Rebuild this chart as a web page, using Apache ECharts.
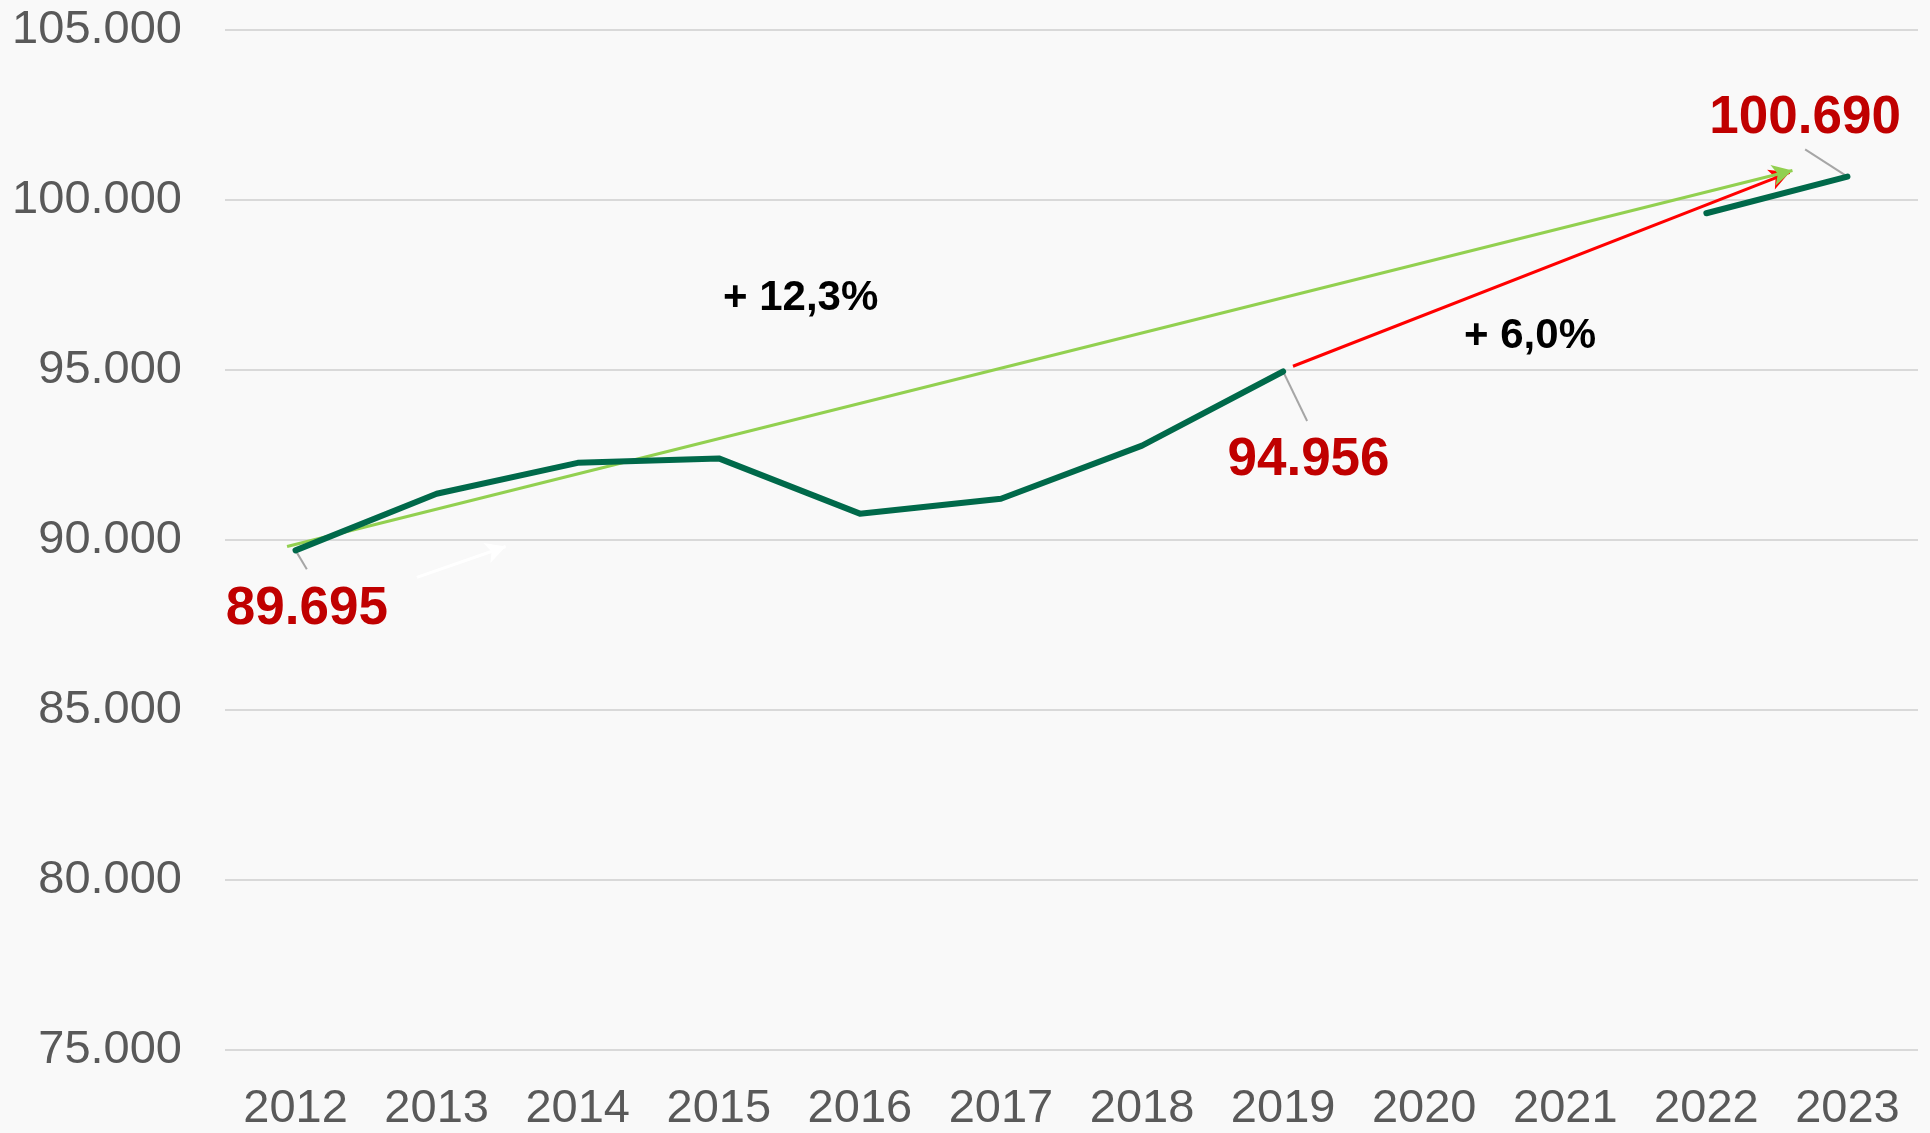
<!DOCTYPE html>
<html>
<head>
<meta charset="utf-8">
<style>
  html, body { margin: 0; padding: 0; background: #f9f9f9; }
  #chart { width: 1930px; height: 1133px; }
</style>
<script src="https://cdn.jsdelivr.net/npm/echarts@6/dist/echarts.min.js"></script>
</head>
<body>
<div id="chart"></div>
<script>
const years = ["2012", "2013", "2014", "2015", "2016", "2017", "2018", "2019", "2020", "2021", "2022", "2023"];
const values = [89695, 91360, 92270, 92400, 90775, 91215, 92775, 94956, null, null, 99610, 100690];
const yTicks = { min: 75000, max: 105000, interval: 5000 };

// annotation points in data units: [category position, value]
const trendArrow = [[-0.06, 89810], [10.61, 100870]];
const recentArrow = [[7.07, 95110], [10.59, 100815]];
const hiddenArrow = [[0.86, 88900], [1.49, 89810]];
const leaders = [
  [[0, 89695], [0.08, 89140]],
  [[7, 94956], [7.17, 93500]],
  [[11, 100690], [10.7, 101490]]
];
const valueLabels = [
  [0.08, 87960, "89.695"],
  [7.18, 92330, "94.956"],
  [10.7, 102400, "100.690"]
];
const growthLabels = [
  [3.58, 97100, "+ 12,3%"],
  [8.75, 96000, "+ 6,0%"]
];

const chart = echarts.init(document.getElementById("chart"));
const font = "'Liberation Sans', Arial, sans-serif";

function segment(points, color, width, arrow) {
  return [
    { coord: points[0], symbol: "none", lineStyle: { color, width, type: "solid" } },
    { coord: points[1], symbol: arrow ? "arrow" : "none", symbolSize: arrow ? [16, 20] : 0 }
  ];
}

const markLines = [
  segment(hiddenArrow, "#ffffff", 3, true),
  segment(recentArrow, "#ff0000", 3, true),
  segment(trendArrow, "#92d050", 3, true),
  ...leaders.map((p) => segment(p, "#a6a6a6", 2, false))
];

const textData = [
  ...valueLabels.map((d) => ({
    value: d,
    label: { color: "#c00000", fontSize: 53, fontWeight: "bold" }
  })),
  ...growthLabels.map((d) => ({
    value: d,
    label: { color: "#000000", fontSize: 42, fontWeight: "bold" }
  }))
];

chart.setOption({
  backgroundColor: "#f9f9f9",
  animation: false,
  grid: { left: 225, right: 12, top: 30, bottom: 77 },
  xAxis: [
    {
      type: "category",
      data: years,
      boundaryGap: true,
      axisLine: { show: false },
      axisTick: { show: false },
      axisLabel: { color: "#595959", fontSize: 47, fontFamily: font, margin: 36 }
    },
    { type: "value", min: -0.5, max: 11.5, show: false }
  ],
  yAxis: {
    type: "value",
    min: yTicks.min,
    max: yTicks.max,
    interval: yTicks.interval,
    axisLine: { show: false },
    axisTick: { show: false },
    splitLine: { lineStyle: { color: "#d9d9d9", width: 2 } },
    axisLabel: {
      color: "#595959",
      fontSize: 47,
      fontFamily: font,
      margin: 43,
      formatter: (v) => (v / 1000).toFixed(0) + ".000"
    }
  },
  series: [
    {
      type: "line",
      data: values,
      connectNulls: false,
      showSymbol: false,
      z: 3,
      lineStyle: { color: "#00694a", width: 6, cap: "round", join: "round" }
    },
    {
      type: "scatter",
      xAxisIndex: 1,
      symbolSize: 0,
      data: textData,
      z: 5,
      label: {
        show: true,
        position: "inside",
        fontFamily: font,
        textBorderWidth: 0,
        textShadowBlur: 0,
        opacity: 1,
        formatter: (p) => p.value[2]
      },
      markLine: {
        silent: true,
        animation: false,
        label: { show: false },
        emphasis: { disabled: true },
        z: 2,
        data: markLines
      }
    }
  ]
});
</script>
</body>
</html>
